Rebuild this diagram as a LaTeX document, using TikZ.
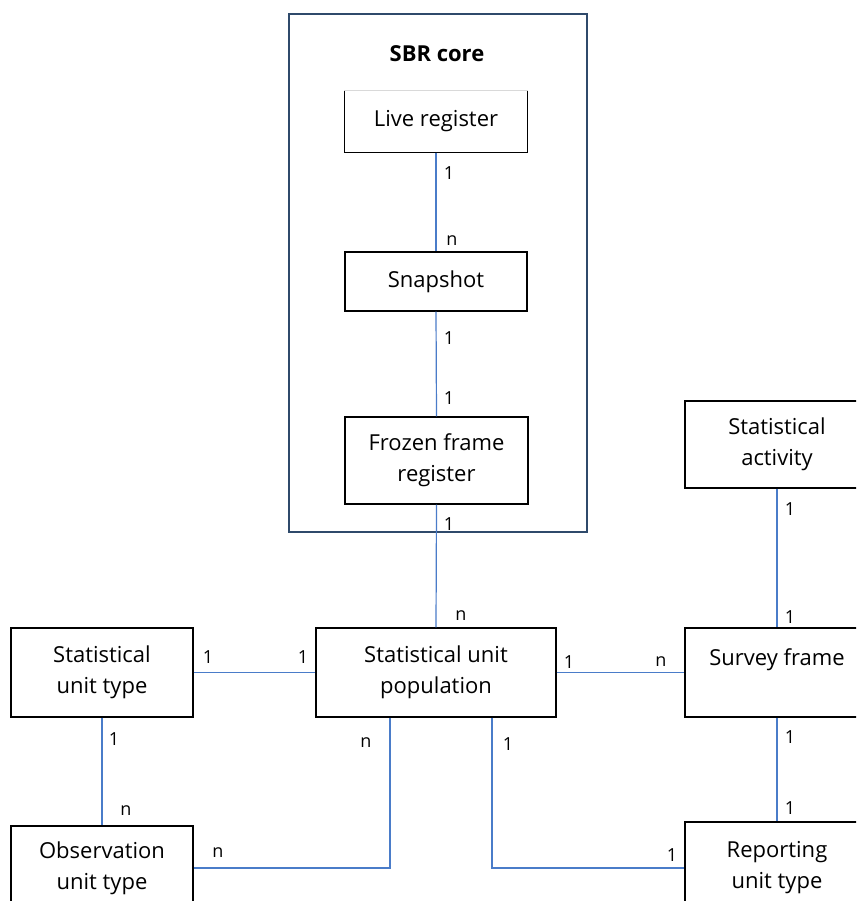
\documentclass[tikz,border=0pt]{standalone}
\usepackage{fontspec}
\setmainfont{Open Sans}
\begin{document}
\definecolor{connblue}{HTML}{4A7CC9}
\definecolor{coreframe}{HTML}{2F4A6B}
\begin{tikzpicture}[x=1pt,y=-1pt,
  entity/.style={draw=black,line width=1.3pt,fill=white,align=center,inner sep=0pt,
    font=\fontsize{22}{31}\selectfont},
  conn/.style={draw=connblue,line width=1.2pt},
  card/.style={font=\fontsize{18}{20}\selectfont,inner sep=0pt}]
\useasboundingbox (0,0) rectangle (856,901);
\clip (0,0) rectangle (856,901);
\fill[white] (0,0) rectangle (856,901);

% SBR core container
\draw[coreframe,line width=2.8pt] (289,14) rectangle (587,532);
\node[font=\fontsize{22}{25}\selectfont\bfseries] (coretitle) at (437,54) {SBR core};

% entities
\node[entity,draw=none,minimum width=182pt,minimum height=61pt] (live) at (436,121.5) {Live register};
\draw[black,line width=1.3pt] (live.north west) -- (live.south west) -- (live.south east) -- (live.north east);
\draw[black!15,line width=0.8pt] (live.north west) -- (live.north east);
\node[entity,minimum width=182pt,minimum height=59pt] (snap) at (436,281.5) {Snapshot};
\node[entity,minimum width=183pt,minimum height=87pt] (frozen) at (436.5,460.5) {Frozen frame\\register};
\node[entity,minimum width=184pt,minimum height=87pt] (act) at (777,444.5) {Statistical\\activity};
\node[entity,minimum width=240pt,minimum height=89pt] (sup) at (436,672.5) {Statistical unit\\population};
\node[entity,minimum width=182pt,minimum height=89pt] (sut) at (102,672.5) {Statistical\\unit type};
\node[entity,minimum width=184pt,minimum height=89pt] (sf) at (777,672.5) {Survey frame\\\phantom{unit}};
\node[entity,minimum width=182pt,minimum height=84pt] (out) at (102,868) {Observation\\unit type};
\node[entity,minimum width=184pt,minimum height=92pt] (rut) at (777,868) {Reporting\\unit type};

% connectors
\draw[conn] (live.south) -- (snap.north);
\draw[conn] (snap.south) -- (frozen.north);
\draw[conn] (frozen.south) -- (sup.north);
\draw[conn] (act.south) -- (sf.north);
\draw[conn] (sf.south) -- (rut.north);
\draw[conn] (sut.east) -- (sup.west);
\draw[conn] (sup.east) -- (sf.west);
\draw[conn] (sut.south) -- (out.north);
\draw[conn] ([xshift=-46pt]sup.south) |- (out.east);
\draw[conn] ([xshift=56pt]sup.south) |- (rut.west);

% cardinalities
\node[card] (c1) at (449,173) {1};
\node[card] (c2) at (452,241) {n};
\node[card] (c3) at (449,338) {1};
\node[card] (c4) at (449,398) {1};
\node[card] (c5) at (449,524) {1};
\node[card] (c6) at (461,616) {n};
\node[card] (c7) at (208,657) {1};
\node[card] (c8) at (303,657) {1};
\node[card] (c9) at (569,662) {1};
\node[card] (c10) at (661,662) {n};
\node[card] (c11) at (790,509) {1};
\node[card] (c12) at (790,617) {1};
\node[card] (c13) at (790,737) {1};
\node[card] (c14) at (790,808) {1};
\node[card] (c15) at (114,739) {1};
\node[card] (c16) at (126,811) {n};
\node[card] (c17) at (366,743) {n};
\node[card] (c18) at (508,744) {1};
\node[card] (c19) at (218,853) {n};
\node[card] (c20) at (672,855) {1};
\end{tikzpicture}
\end{document}
